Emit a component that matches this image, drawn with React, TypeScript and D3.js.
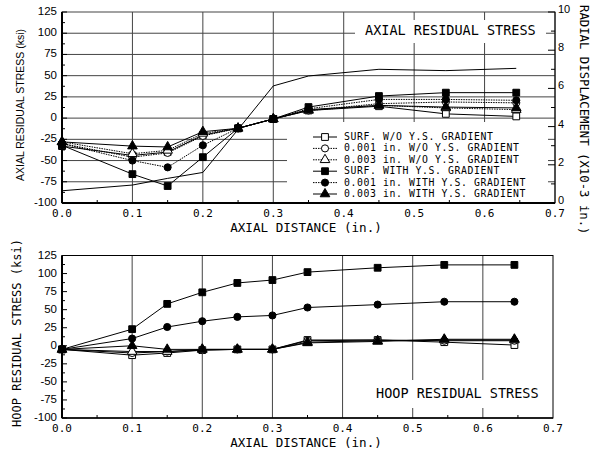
import React from "react";
import * as d3 from "d3";

const X = [0, 0.1, 0.15, 0.2, 0.25, 0.3, 0.35, 0.45, 0.545, 0.645];

const SERIES_NAMES = [
  "SURF. W/O Y.S. GRADIENT",
  "0.001 in. W/O Y.S. GRADIENT",
  "0.003 in. W/O Y.S. GRADIENT",
  "SURF. WITH Y.S. GRADIENT",
  "0.001 in. WITH Y.S. GRADIENT",
  "0.003 in. WITH Y.S. GRADIENT",
];
const SERIES_SHAPES = ["square", "circle", "triangle", "square", "circle", "triangle"];
const SERIES_FILLED = [false, false, false, true, true, true];
const SERIES_DASHED = [false, true, true, false, true, false];

const axialSurfWO = [-33, -44, -40, -20, -12, -1, 9, 14, 5, 2];
const axial001WO = [-30, -46, -41, -21, -12, -1, 9, 17, 19, 18];
const axial003WO = [-28, -42, -38, -18, -12, -1, 9, 15, 12, 10];
const axialSurfW = [-32, -66, -80, -46, -12, -1, 13, 26, 30, 30];
const axial001W = [-30, -50, -58, -32, -12, -1, 11, 22, 22, 21];
const axial003W = [-28, -33, -34, -16, -12, -1, 10, 15, 13, 12];
const radialDisp = [0.64, 0.94, 1.29, 1.6, 3.85, 6.13, 6.65, 7.0, 6.93, 7.05];

const hoopSurfWO = [-5, -13, -10, -6, -5, -5, 8, 8, 5, 1];
const hoop001WO = [-5, -10, -8, -6, -5, -5, 7, 8, 7, 7];
const hoop003WO = [-5, -8, -8, -5, -5, -5, 5, 7, 8, 8];
const hoopSurfW = [-5, 23, 58, 74, 87, 91, 102, 108, 112, 112];
const hoop001W = [-5, 10, 26, 34, 40, 42, 53, 57, 61, 61];
const hoop003W = [-5, 0, -5, -5, -5, -5, 4, 6, 9, 9];

const AXIAL = [axialSurfWO, axial001WO, axial003WO, axialSurfW, axial001W, axial003W];
const HOOP = [hoopSurfWO, hoop001WO, hoop003WO, hoopSurfW, hoop001W, hoop003W];

const X_TICKS = [0, 0.1, 0.2, 0.3, 0.4, 0.5, 0.6, 0.7];
const X_GRID = [0.1, 0.2, 0.3, 0.4, 0.5, 0.6];
const Y_TICKS = [125, 100, 75, 50, 25, 0, -25, -50, -75, -100];
const Y_GRID_TOP = [100, 75, 50, 25, 0, -25, -50, -75];
const R_TICKS = [0, 2, 4, 6, 8, 10];

const MONO = "'DejaVu Sans Mono', monospace";
const SANS = "'Liberation Sans', Arial, sans-serif";

function Marker({ shape, filled, x, y }: { shape: string; filled: boolean; x: number; y: number }) {
  const type = shape === "square" ? d3.symbolSquare : shape === "circle" ? d3.symbolCircle : d3.symbolTriangle;
  const size = shape === "square" ? 46 : 40;
  const p = d3.symbol().type(type).size(size)()!;
  return (
    <path d={p} transform={`translate(${x},${y})`} fill={filled ? "#000" : "#fff"} stroke="#000" strokeWidth={1} />
  );
}

function Panel({ x, y, data, dashed }: any) {
  const line = d3.line<number>().x((_, i) => x(X[i])).y((v) => y(v));
  return (
    <g>
      {data.map((s: number[], k: number) => (
        <path key={"l" + k} d={line(s)!} fill="none" stroke="#000" strokeWidth={1}
          strokeDasharray={dashed && SERIES_DASHED[k] ? "1.5,1" : undefined} />
      ))}
      {data.map((s: number[], k: number) =>
        s.map((v, i) => (
          <Marker key={k + "-" + i} shape={SERIES_SHAPES[k]} filled={SERIES_FILLED[k]} x={x(X[i])} y={y(v)} />
        ))
      )}
    </g>
  );
}

function XAxis({ x, y0 }: any) {
  const minor = d3.range(0.05, 0.7, 0.1);
  return (
    <g>
      {minor.map((t) => (
        <line key={"m" + t} x1={x(t)} x2={x(t)} y1={y0} y2={y0 - 3} stroke="#000" />
      ))}
      {X_TICKS.map((t) => (
        <text key={t} x={x(t)} y={y0 + 11} textAnchor="middle" dominantBaseline="middle"
          fontFamily={MONO} fontSize={11} fill="#000">{t.toFixed(1)}</text>
      ))}
    </g>
  );
}

function YAxis({ y, x0 }: any) {
  const minor = d3.range(-87.5, 125, 25);
  return (
    <g>
      {minor.map((t) => (
        <line key={"m" + t} x1={x0} x2={x0 + 3} y1={y(t)} y2={y(t)} stroke="#000" />
      ))}
      {Y_TICKS.map((t) => (
        <line key={"M" + t} x1={x0} x2={x0 + 5} y1={y(t)} y2={y(t)} stroke="#000" />
      ))}
      {Y_TICKS.map((t) => (
        <text key={t} x={x0 - 5} y={y(t)} textAnchor="end" dominantBaseline="middle"
          fontFamily={SANS} fontSize={11.5} fill="#000">{String(t)}</text>
      ))}
    </g>
  );
}

export default function App() {
  const L = 62, R1 = 555, R2 = 553;
  const xT = d3.scaleLinear().domain([0, 0.7]).range([L, R1]);
  const yT = d3.scaleLinear().domain([-100, 125]).range([203, 12]);
  const yR = d3.scaleLinear().domain([0, 10]).range([203, 12]);
  const xB = d3.scaleLinear().domain([0, 0.7]).range([L, R2]);
  const yB = d3.scaleLinear().domain([-100, 125]).range([418, 255.5]);
  const radialLine = d3.line<number>().x((_, i) => xT(X[i])).y((v) => yR(v));
  const legendRows = [137, 148.4, 159.8, 171.2, 182.6, 194];

  return (
    <svg width={594} height={452} style={{ position: "absolute", left: 0, top: 0, background: "#fff" }}>
      <rect x={0} y={0} width={594} height={452} fill="#fff" />
      {/* ---------- TOP PANEL ---------- */}
      {Y_GRID_TOP.map((t) => (
        <line key={"hg" + t} x1={L} x2={R1} y1={yT(t)} y2={yT(t)} stroke="#444" strokeWidth={1} />
      ))}
      {X_GRID.map((t) => (
        <line key={"vg" + t} x1={xT(t)} x2={xT(t)} y1={yT(125)} y2={yT(-100)} stroke="#444" strokeWidth={1} />
      ))}
      <rect x={355} y={20} width={191} height={23} fill="#fff" />
      <text x={365} y={35} fontFamily={MONO} fontSize={13.5} fill="#000">AXIAL RESIDUAL STRESS</text>
      <rect x={287} y={122} width={261} height={80} fill="#fff" />
      <rect x={L} y={yT(125)} width={R1 - L} height={yT(-100) - yT(125)} fill="none" stroke="#444" strokeWidth={1} />
      <path d={radialLine(radialDisp)!} fill="none" stroke="#000" strokeWidth={1} />
      <Panel x={xT} y={yT} data={AXIAL} dashed={true} />
      {legendRows.map((ry, k) => (
        <g key={"lg" + k}>
          <line x1={313} x2={337} y1={ry} y2={ry} stroke="#000" strokeDasharray={SERIES_DASHED[k] ? "1.5,1" : undefined} />
          <Marker shape={SERIES_SHAPES[k]} filled={SERIES_FILLED[k]} x={325} y={ry} />
          <text x={344} y={ry} dominantBaseline="middle" fontFamily={MONO} fontSize={9.8}
            letterSpacing={0.6} fill="#000">{SERIES_NAMES[k]}</text>
        </g>
      ))}
      <line x1={L} x2={L} y1={yT(125)} y2={yT(-100)} stroke="#000" strokeWidth={2} />
      <line x1={L} x2={R1} y1={yT(-100)} y2={yT(-100)} stroke="#000" strokeWidth={2} />
      <line x1={R1} x2={R1} y1={yT(125)} y2={yT(-100)} stroke="#000" strokeWidth={1} />
      <YAxis y={yT} x0={L} />
      <XAxis x={xT} y0={yT(-100)} />
      {d3.range(1, 10, 2).map((t) => (
        <line key={"rm" + t} x1={R1} x2={R1 - 4} y1={yR(t)} y2={yR(t)} stroke="#000" />
      ))}
      {R_TICKS.map((t) => (
        <g key={"r" + t}>
          <line x1={R1} x2={R1 - 7} y1={yR(t)} y2={yR(t)} stroke="#000" />
          <text x={R1 + 3} y={yR(t) - 2} dominantBaseline="middle" fontFamily={SANS} fontSize={11} fill="#000">{String(t)}</text>
        </g>
      ))}
      <text transform="translate(21,105) rotate(-90)" textAnchor="middle" dominantBaseline="middle"
        fontFamily={SANS} fontSize={10.5} fill="#000">AXIAL RESIDUAL STRESS (ksi)</text>
      <text transform="translate(583,5) rotate(90)" textAnchor="start" dominantBaseline="middle"
        fontFamily={MONO} fontSize={12.3} fill="#000">RADIAL DISPLACEMENT (X10-3 in.)</text>
      <text x={306} y={228} textAnchor="middle" dominantBaseline="middle" fontFamily={MONO} fontSize={12.6} fill="#000">AXIAL DISTANCE (in.)</text>

      {/* ---------- BOTTOM PANEL ---------- */}
      {X_GRID.map((t) => (
        <line key={"bvg" + t} x1={xB(t)} x2={xB(t)} y1={yB(125)} y2={yB(-100)} stroke="#444" strokeWidth={1} />
      ))}
      <rect x={370} y={380} width={178} height={28} fill="#fff" />
      <text x={376} y={398} fontFamily={MONO} fontSize={13.5} fill="#000">HOOP RESIDUAL STRESS</text>
      <rect x={L} y={yB(125)} width={R2 - L} height={yB(-100) - yB(125)} fill="none" stroke="#000" strokeWidth={1} />
      <Panel x={xB} y={yB} data={HOOP} dashed={false} />
      <line x1={L} x2={L} y1={yB(125)} y2={yB(-100)} stroke="#000" strokeWidth={2} />
      <line x1={L} x2={R2} y1={yB(-100)} y2={yB(-100)} stroke="#000" strokeWidth={1.5} />
      <YAxis y={yB} x0={L} />
      <XAxis x={xB} y0={yB(-100)} />
      <text transform="translate(17,333) rotate(-90)" textAnchor="middle" dominantBaseline="middle"
        fontFamily={MONO} fontSize={12} fill="#000">HOOP RESIDUAL STRESS (ksi)</text>
      <text x={306} y={443} textAnchor="middle" dominantBaseline="middle" fontFamily={MONO} fontSize={12.6} fill="#000">AXIAL DISTANCE (in.)</text>
    </svg>
  );
}
